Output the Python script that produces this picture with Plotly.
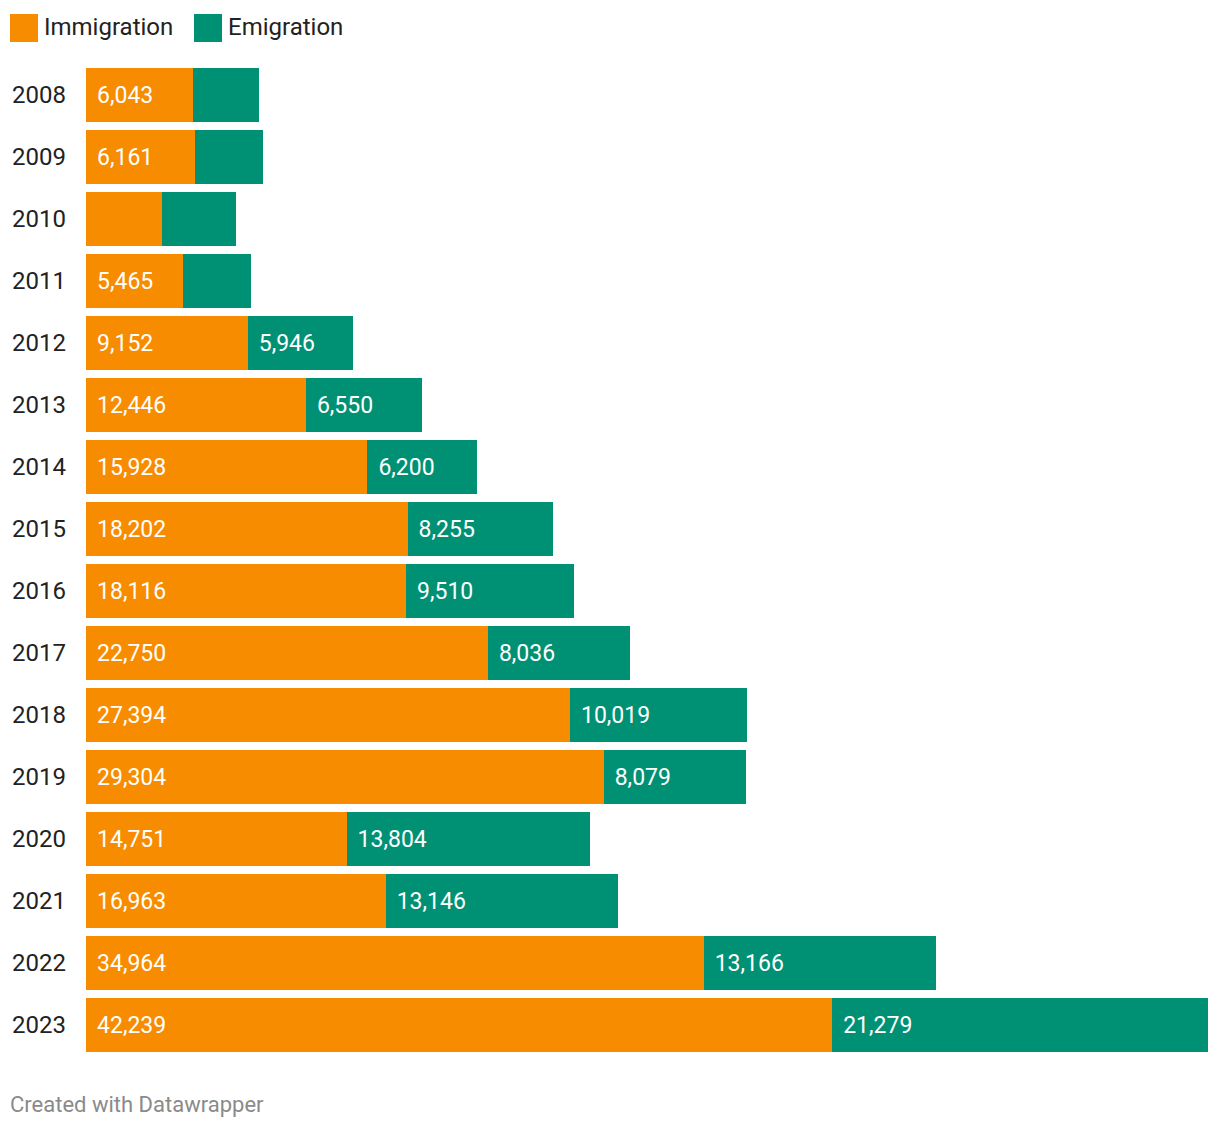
import plotly.graph_objects as go

years = ["2008", "2009", "2010", "2011", "2012", "2013", "2014", "2015",
         "2016", "2017", "2018", "2019", "2020", "2021", "2022", "2023"]
immigration = [6043, 6161, 4300, 5465, 9152, 12446, 15928, 18202,
               18116, 22750, 27394, 29304, 14751, 16963, 34964, 42239]
emigration = [3740, 3850, 4190, 3850, 5946, 6550, 6200, 8255,
              9510, 8036, 10019, 8079, 13804, 13146, 13166, 21279]
# labels shown in the reference ("" = not labelled)
imm_labels = ["6,043", "6,161", "", "5,465", "9,152", "12,446", "15,928", "18,202",
              "18,116", "22,750", "27,394", "29,304", "14,751", "16,963", "34,964", "42,239"]
emi_labels = ["", "", "", "", "5,946", "6,550", "6,200", "8,255",
              "9,510", "8,036", "10,019", "8,079", "13,804", "13,146", "13,166", "21,279"]

ORANGE = "#F88C00"
TEAL = "#009175"
FONT = "Roboto"
PAD = "\u00a0\u200a"


def pad(labels):
    return [(PAD + s) if s else "" for s in labels]


fig = go.Figure()
for vals, labels, color, name in [(immigration, imm_labels, ORANGE, "Immigration"),
                                  (emigration, emi_labels, TEAL, "Emigration")]:
    fig.add_trace(go.Bar(
        y=years, x=vals, orientation="h", name=name,
        marker=dict(color=color, line=dict(width=0)),
        text=pad(labels), textposition="inside", insidetextanchor="start",
        textangle=0, constraintext="none",
        insidetextfont=dict(family=FONT, size=23, color="white"),
        hoverinfo="skip"))

annotations = []
shapes = []
# custom legend
for x0, color, label, tx in [(10, ORANGE, "Immigration", 42), (194, TEAL, "Emigration", 226)]:
    shapes.append(dict(type="rect", xref="paper", yref="paper",
                       x0=(x0 - 86) / 1122, x1=(x0 + 28 - 86) / 1122,
                       y0=1 + (64 - 42) / 992, y1=1 + (64 - 14) / 992,
                       fillcolor=color, line=dict(width=0)))
    annotations.append(dict(x=(tx - 86) / 1122, y=1 + (64 - 27) / 992, xref="paper", yref="paper",
                            text=label, showarrow=False, xanchor="left", yanchor="middle",
                            font=dict(family=FONT, size=24, color="#222222")))

annotations.append(dict(x=(8 - 86) / 1122, y=-(1104 - 1056) / 992, xref="paper", yref="paper",
                        text="Created with Datawrapper", showarrow=False, xanchor="left", yanchor="middle",
                        font=dict(family=FONT, size=22, color="#8a8a8a")))

fig.update_layout(
    width=1220, height=1130,
    margin=dict(l=86, r=12, t=64, b=74, autoexpand=False),
    barmode="stack", bargap=0.13,
    plot_bgcolor="white", paper_bgcolor="white",
    showlegend=False,
    font=dict(family=FONT, size=22, color="#222222"),
    uniformtext=dict(mode=False),
    xaxis=dict(range=[0, immigration[-1] + emigration[-1]], showgrid=False, zeroline=False,
               showticklabels=False, fixedrange=True),
    yaxis=dict(type="category", autorange="reversed", showgrid=False, zeroline=False, ticks="",
               ticklabelstandoff=19, tickfont=dict(family=FONT, size=24, color="#222222"),
               fixedrange=True),
    annotations=annotations, shapes=shapes,
)

fig.write_html("out.html", config={"displayModeBar": False})
